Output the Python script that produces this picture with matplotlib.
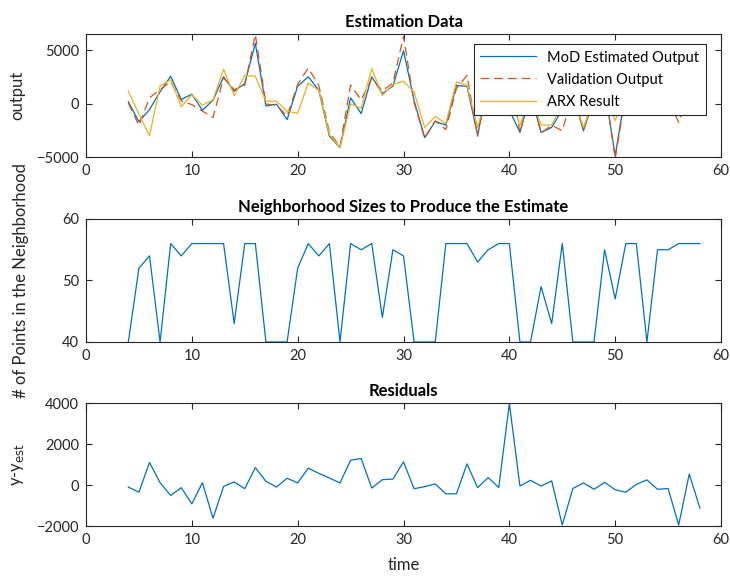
import matplotlib.pyplot as plt
import numpy as np

plt.rcParams['font.family'] = ['Lato', 'DejaVu Sans']

time = np.arange(4, 59)

# MoD estimated output
mod_est = [160, -1700, -560, 1100, 2560, 375, 875, -625, 310, 2500,
           1150, 1875, 5630, -220, -60, -1500, 1625, 2500, 1250, -3060,
           -4125, 530, -940, 2500, 940, 1625, 4940, 280, -3180, -1670,
           -2010, 1700, 1600, -2920, 1800, 1600, -600, -2700, 900, -2700,
           -2230, -590, 1000, -2550, 500, 1500, -4900, 1200, 1500, -1000,
           800, 500, 190, 600, 1500]
# validation output
valid = [60, -2050, 540, 1300, 2050, 245, -100, -700, -1310, 2400,
         1300, 1700, 6450, -40, -160, -1170, 1800, 3320, 1700, -2720,
         -4025, 1740, 350, 2350, 1200, 1915, 6300, 100, -3260, -1620,
         -2440, 1400, 2630, -3050, 2160, 1480, 3380, -2750, 1130, -2750,
         -2030, -2540, 830, -2450, 290, 1630, -5130, 850, 1530, -880,
         590, 330, -1760, 1140, 370]
# ARX result
arx = [1160, -975, -3020, 1640, 2230, -280, 820, -160, 350, 3200,
       750, 2640, 2550, 220, 220, -720, -910, 1920, 1230, -2920,
       -4120, -30, -440, 3270, 750, 1790, 2100, 1070, -2230, -1200,
       -1860, 2010, 1700, -2230, 1500, 1400, 800, -2010, 700, -2010,
       -2010, 0, 800, -2230, 400, 1200, -1600, 1000, 1300, -500,
       700, 500, 200, 600, 1200]
# neighborhood sizes
nbhd = [40, 52, 54, 40, 56, 54, 56, 56, 56, 56,
        43, 56, 56, 40, 40, 40, 52, 56, 54, 56,
        40, 56, 55, 56, 44, 55, 54, 40, 40, 40,
        56, 56, 56, 53, 55, 56, 56, 40, 40, 49,
        43, 56, 40, 40, 40, 55, 47, 56, 56, 40,
        55, 55, 56, 56, 56]
# residuals
resid = [-100, -350, 1100, 110, -510, -130, -920, 110, -1620, -70,
         150, -180, 850, 180, -100, 330, 100, 820, 570, 340,
         100, 1210, 1290, -150, 260, 290, 1130, -180, -80, 50,
         -430, -430, 1030, -130, 360, -120, 3980, -50, 230, -50,
         200, -1950, -170, 100, -210, 130, -230, -350, 30, 250,
         -210, -170, -1950, 540, -1130]

blue = '#0072BD'
red = '#D95319'
yellow = '#EDB120'
gray = '#262626'

fig = plt.figure(figsize=(7.3, 5.76), dpi=100)
ax1 = fig.add_axes([0.1178, 0.7274, 0.8699, 0.2135])
ax2 = fig.add_axes([0.1178, 0.4063, 0.8699, 0.2135])
ax3 = fig.add_axes([0.1178, 0.0868, 0.8699, 0.2135])

ax1.plot(time, mod_est, color=blue, lw=0.9, label='MoD Estimated Output')
ax1.plot(time, valid, color=red, lw=0.9, ls=(0, (7, 4)), label='Validation Output')
ax1.plot(time, arx, color=yellow, lw=0.9, label='ARX Result')
ax1.set_ylim(-5000, 6500)
ax1.set_yticks([-5000, 0, 5000])
ax1.set_ylabel('output', fontsize=12, color=gray)
ax1.set_title('Estimation Data', fontsize=12, fontweight='bold', pad=5)
leg = ax1.legend(loc='upper right', bbox_to_anchor=(0.976, 0.919),
                 borderaxespad=0, fontsize=10.5, handlelength=3.8,
                 fancybox=False, framealpha=1, edgecolor=gray,
                 labelspacing=0.55, borderpad=0.45)
leg.get_frame().set_linewidth(0.8)

ax2.plot(time, nbhd, color=blue, lw=0.9)
ax2.set_ylim(40, 60)
ax2.set_yticks([40, 50, 60])
ax2.set_ylabel('# of Points in the Neighborhood', fontsize=12, color=gray)
ax2.set_title('Neighborhood Sizes to Produce the Estimate', fontsize=12,
              fontweight='bold', pad=5)

ax3.plot(time, resid, color=blue, lw=0.9)
ax3.set_ylim(-2000, 4000)
ax3.set_yticks([-2000, 0, 2000, 4000])
ax3.set_ylabel('y-y$_{\\mathrm{est}}$', fontsize=12, color=gray)
ax3.set_xlabel('time', fontsize=12, color=gray, labelpad=7)
ax3.set_title('Residuals', fontsize=12, fontweight='bold', pad=5)

for ax in (ax1, ax2, ax3):
    ax.set_xlim(0, 60)
    ax.set_xticks(range(0, 61, 10))
    ax.tick_params(direction='in', top=True, right=True, labelsize=10.5,
                   colors=gray, length=4, width=0.8, pad=5)
    for s in ax.spines.values():
        s.set_color(gray)
        s.set_linewidth(0.8)
    ax.yaxis.set_label_coords(-0.095, 0.5)

ax2.yaxis.set_label_coords(-0.09, 0.5)

fig.savefig('out.png', dpi=100)
